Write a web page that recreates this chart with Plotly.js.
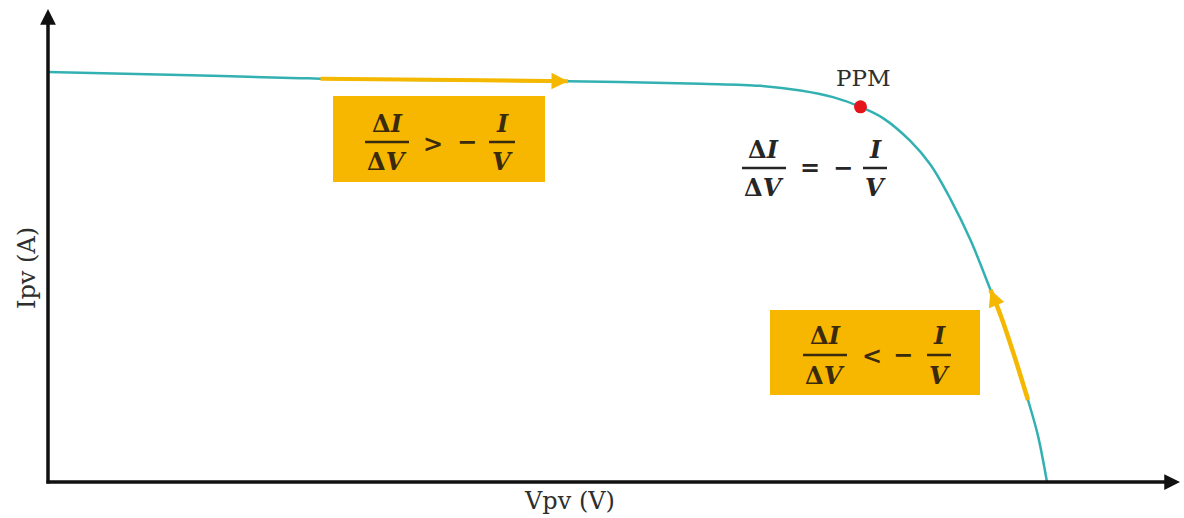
<!DOCTYPE html>
<html>
<head>
<meta charset="utf-8">
<script src="https://cdn.plot.ly/plotly-3.0.1.min.js"></script>
<style>
  html, body { margin: 0; padding: 0; background: #ffffff; }
  #chart { width: 1184px; height: 518px; }
</style>
</head>
<body>
<div id="chart"></div>
<script>
// PV module I-V characteristic (voltage in V, current in A)
const voltage = [0.0, 5.3, 10.1, 10.9, 16.1, 20.8, 26.1, 28.5, 30.1, 31.4, 32.5, 33.4, 34.5, 35.3, 36.1, 36.9, 37.7, 38.1, 38.6, 39.2, 39.6, 39.96];
const current = [8.00, 7.94, 7.88, 7.87, 7.84, 7.82, 7.77, 7.73, 7.64, 7.51, 7.32, 7.10, 6.65, 6.19, 5.52, 4.72, 3.75, 3.26, 2.54, 1.60, 0.90, 0.00];

// index of the maximum power point on the curve
const mppIndex = 10;
// curve portions highlighted as search direction: [start, end] indices
const leftSearch = [3, 5];    // moves toward higher voltage
const rightSearch = [16, 19]; // moves toward lower voltage

// axis extents (tips of the arrowed axes)
const vAxisMax = 45.28;
const iAxisMax = 9.23;

const axisTitles = { x: "Vpv (V)", y: "Ipv (A)" };
const mppLabel = "PPM";

// ---- layout helpers (pixel -> paper coordinates) ----
const W = 1184, H = 518;
const M = { l: 38, r: 0, t: 0, b: 26 };
const PW = W - M.l - M.r, PH = H - M.t - M.b;
const xp = px => (px - M.l) / PW;
const yp = py => (H - M.b - py) / PH;

const curveColor = "#33b1b2";
const searchColor = "#f5b800";
const boxColor = "#f7b600";
const mathFont = { family: "DejaVu Serif", size: 24, color: "#3a2a0e", weight: "bold" };
const eqFont = { family: "DejaVu Serif", size: 24, color: "#262626", weight: "bold" };

const annotations = [];
const shapes = [];

function txt(px, py, text, font, extra) {
  annotations.push(Object.assign({
    xref: "paper", yref: "paper", x: xp(px), y: yp(py),
    xanchor: "center", yanchor: "middle", text: text, showarrow: false, font: font
  }, extra || {}));
}

function frac(cx, barY, num, den, w, font) {
  txt(cx, barY - 19, num, font);
  txt(cx, barY + 20, den, font);
  shapes.push({
    type: "line", xref: "paper", yref: "paper",
    x0: xp(cx - w / 2), x1: xp(cx + w / 2), y0: yp(barY), y1: yp(barY),
    line: { color: font.color, width: 2.5 }
  });
}

function box(x0, y0, x1, y1) {
  shapes.push({
    type: "rect", xref: "paper", yref: "paper", layer: "below",
    x0: xp(x0), x1: xp(x1), y0: yp(y1), y1: yp(y0),
    fillcolor: boxColor, line: { width: 0 }
  });
}

// condition left of the MPP
box(333, 96, 545, 182);
frac(387, 142, "Δ<i>I</i>", "Δ<i>V</i>", 44, mathFont);
txt(433, 143, "&gt;", mathFont);
txt(467, 142, "−", mathFont);
frac(502, 142, "<i>I</i>", "<i>V</i>", 26, mathFont);

// condition at the MPP
frac(764, 168, "Δ<i>I</i>", "Δ<i>V</i>", 44, eqFont);
txt(810, 168, "=", eqFont);
txt(843, 167, "−", eqFont);
frac(875, 168, "<i>I</i>", "<i>V</i>", 24, eqFont);

// condition right of the MPP
box(770, 310, 980, 395);
frac(825, 355, "Δ<i>I</i>", "Δ<i>V</i>", 44, mathFont);
txt(872, 355, "&lt;", mathFont);
txt(903, 354, "−", mathFont);
frac(939, 355, "<i>I</i>", "<i>V</i>", 24, mathFont);

// axis titles
const labelFont = { family: "DejaVu Serif", size: 24, color: "#2e2e2e" };
txt(569, 501, axisTitles.x, labelFont);
txt(27, 268, axisTitles.y, labelFont, { textangle: -90 });

// MPP label
annotations.push({
  xref: "x", yref: "y", x: voltage[mppIndex], y: current[mppIndex],
  text: mppLabel, showarrow: false, yanchor: "bottom", xanchor: "center",
  yshift: 14, xshift: 3, font: { family: "DejaVu Serif", size: 23, color: "#2e2e2e" }
});

// arrowed axes
annotations.push({
  xref: "x", yref: "y", axref: "x", ayref: "y",
  x: vAxisMax, y: 0, ax: -0.12, ay: 0, text: "", showarrow: true,
  arrowhead: 2, arrowsize: 0.9, arrowwidth: 3.5, arrowcolor: "#111111"
});
annotations.push({
  xref: "x", yref: "y", axref: "x", ayref: "y",
  x: 0, y: iAxisMax, ax: 0, ay: -0.06, text: "", showarrow: true,
  arrowhead: 2, arrowsize: 0.9, arrowwidth: 3.5, arrowcolor: "#111111"
});

// direction arrowheads on the highlighted segments
function dirArrow(tipIdx, tailIdx) {
  annotations.push({
    xref: "x", yref: "y", axref: "x", ayref: "y",
    x: voltage[tipIdx], y: current[tipIdx],
    ax: voltage[tailIdx], ay: current[tailIdx],
    text: "", showarrow: true, arrowhead: 2, arrowsize: 1.1,
    arrowwidth: 3, arrowcolor: searchColor
  });
}
dirArrow(leftSearch[1], leftSearch[1] - 1);
dirArrow(rightSearch[0], rightSearch[0] + 1);

const slice = (arr, r) => arr.slice(r[0], r[1] + 1);

const traces = [
  {
    x: voltage, y: current, type: "scatter", mode: "lines",
    line: { color: curveColor, width: 2.5, shape: "spline", smoothing: 1 },
    hoverinfo: "skip", name: "I-V"
  },
  {
    x: slice(voltage, leftSearch), y: slice(current, leftSearch),
    type: "scatter", mode: "lines",
    line: { color: searchColor, width: 4 }, hoverinfo: "skip"
  },
  {
    x: slice(voltage, rightSearch), y: slice(current, rightSearch),
    type: "scatter", mode: "lines",
    line: { color: searchColor, width: 4.5, shape: "spline", smoothing: 1 }, hoverinfo: "skip"
  },
  {
    x: [voltage[mppIndex]], y: [current[mppIndex]],
    type: "scatter", mode: "markers",
    marker: { color: "#e5141b", size: 13 }, name: mppLabel
  }
];

const layout = {
  width: W, height: H,
  margin: M,
  paper_bgcolor: "#ffffff", plot_bgcolor: "#ffffff",
  showlegend: false,
  xaxis: {
    range: [-0.4, -0.4 + PW / 25], showgrid: false, zeroline: false,
    showticklabels: false, ticks: "", showline: false, fixedrange: true
  },
  yaxis: {
    range: [-10 / 51.25, (PH - 10) / 51.25], showgrid: false, zeroline: false,
    showticklabels: false, ticks: "", showline: false, fixedrange: true
  },
  annotations: annotations,
  shapes: shapes
};

Plotly.newPlot("chart", traces, layout, { displayModeBar: false, staticPlot: true });
</script>
</body>
</html>
